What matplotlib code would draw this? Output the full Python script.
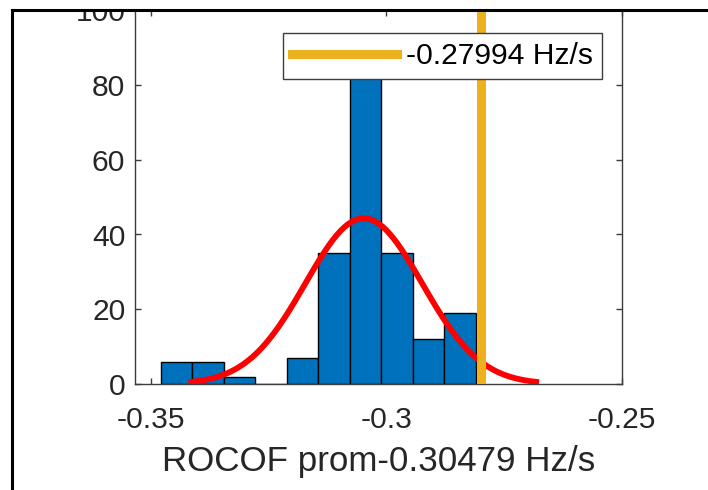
import numpy as np
import matplotlib
matplotlib.use("Agg")
import matplotlib.pyplot as plt
from matplotlib.patches import Rectangle
from matplotlib.lines import Line2D

# histogram of ROCOF values (Hz/s)
bin_edges = [-0.34788, -0.34119, -0.33450, -0.32781, -0.32112, -0.31443,
             -0.30774, -0.30105, -0.29436, -0.28767, -0.28098]
counts = [6, 6, 2, 0, 7, 35, 84, 35, 12, 19]

# normal fit parameters and reference value
mu = -0.30479
sigma = 0.0124
ref_value = -0.27994

x_ticks = [-0.35, -0.3, -0.25]
x_tick_labels = ["-0.35", "-0.3", "-0.25"]
y_ticks = [0, 20, 40, 60, 80, 100]

plt.rcParams['font.family'] = ['Liberation Sans', 'DejaVu Sans']

fig = plt.figure(figsize=(7.08, 4.9), dpi=100)
ax = fig.add_axes([135.3 / 708, 106 / 490, 486.7 / 708, 373.75 / 490])

edges = np.array(bin_edges)
ax.bar(edges[:-1], counts, width=np.diff(edges), align='edge',
       color='#0072BD', edgecolor='black', linewidth=1.0, zorder=2)

# fitted normal curve scaled to histogram area
n_total = sum(counts)
bw = edges[1] - edges[0]
xf = np.linspace(mu - 3 * sigma, mu + 3 * sigma, 100)
yf = n_total * bw * np.exp(-0.5 * ((xf - mu) / sigma) ** 2) / (sigma * np.sqrt(2 * np.pi))
ax.plot(xf, yf, color='red', linewidth=4.2, zorder=3, solid_capstyle='butt')

ax.axvline(ref_value, color='#EDB120', linewidth=6.5, zorder=4)

ax.set_xlim(-0.35327, -0.25)
ax.set_ylim(0, 100)
ax.set_xticks(x_ticks)
ax.set_xticklabels(x_tick_labels)
ax.set_yticks(y_ticks)

axis_col = '#3c3c3c'
for s in ax.spines.values():
    s.set_color(axis_col)
    s.set_linewidth(1.0)
ax.tick_params(direction='in', length=4, width=1.0, color=axis_col,
               top=True, right=True, labelcolor='#262626', labelsize=21.6)
ax.tick_params(axis='x', pad=16)
ax.tick_params(axis='y', pad=7.2)

ax.set_xlabel("ROCOF prom-0.30479 Hz/s", fontsize=25.2, color='#262626', labelpad=8)

handle = Line2D([], [], color='#EDB120', linewidth=6.5)
leg = ax.legend([handle], ["-0.27994 Hz/s"], loc='upper left',
                bbox_to_anchor=(0.3035, 0.9391), borderaxespad=0,
                fontsize=21.6, handlelength=3.5, handletextpad=0.3,
                borderpad=0.3, fancybox=False, framealpha=1)
leg.get_frame().set_edgecolor(axis_col)
leg.get_frame().set_linewidth(1.0)
leg.set_zorder(10)

# outer frame: white strip above the top rule, then the rules themselves
fig.add_artist(Rectangle((0, 1 - 9 / 490), 1, 9 / 490, transform=fig.transFigure,
                         facecolor='white', edgecolor='none', zorder=20))
fig.add_artist(Line2D([12 / 708, 1], [1 - 10 / 490, 1 - 10 / 490],
                      transform=fig.transFigure, color='black', linewidth=2.2, zorder=21))
fig.add_artist(Line2D([12 / 708, 12 / 708], [0, 1 - 10 / 490],
                      transform=fig.transFigure, color='black', linewidth=2.2, zorder=21))

fig.savefig("out.png", dpi=100)
